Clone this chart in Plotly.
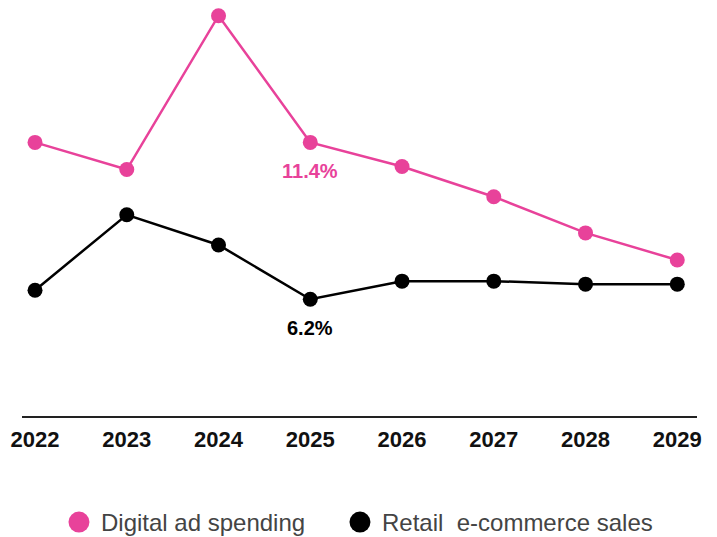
import plotly.graph_objects as go

# Year-over-year growth, %
years = [2022, 2023, 2024, 2025, 2026, 2027, 2028, 2029]
digital_ad = [11.4, 10.5, 15.6, 11.4, 10.6, 9.6, 8.4, 7.5]
retail_ecom = [6.5, 9.0, 8.0, 6.2, 6.8, 6.8, 6.7, 6.7]
series_names = ["Digital ad spending", "Retail\u00a0 e-commerce sales"]
label_year = 2025

PINK = "#E8429A"
BLACK = "#000000"
colors = [PINK, BLACK]

fig = go.Figure()
for name, vals, col in zip(series_names, [digital_ad, retail_ecom], colors):
    fig.add_trace(go.Scatter(
        x=years, y=vals, mode="lines+markers", name=name,
        line=dict(color=col, width=2.5),
        marker=dict(color=col, size=15),
        cliponaxis=False, showlegend=False, hoverinfo="skip",
    ))

# value callouts under the 2025 points
idx = years.index(label_year)
for vals, col in zip([digital_ad, retail_ecom], colors):
    fig.add_annotation(
        x=label_year, y=vals[idx], text=f"<b>{vals[idx]:.1f}%</b>",
        showarrow=False, yshift=-29, xanchor="center", yanchor="middle",
        font=dict(family="Liberation Sans", size=20, color=col),
    )

# custom legend below the axis
legend_items = [(0.0844, 0.1135), (0.5007, 0.5305)]
for (cx, tx), name, col in zip(legend_items, series_names, colors):
    fig.add_shape(
        type="circle", xref="paper", yref="paper",
        xsizemode="pixel", ysizemode="pixel",
        xanchor=cx, yanchor=-0.255,
        x0=-10.5, x1=10.5, y0=-10.5, y1=10.5,
        fillcolor=col, line=dict(width=0),
    )
    fig.add_annotation(
        xref="paper", yref="paper", x=tx, y=-0.255, text=name,
        showarrow=False, xanchor="left", yanchor="middle",
        font=dict(family="Liberation Sans", size=24, color="#444444"),
    )

fig.update_layout(
    width=717, height=537,
    margin=dict(l=22, r=20, t=0, b=121),
    paper_bgcolor="white", plot_bgcolor="white",
    showlegend=False,
    xaxis=dict(
        range=[2021.858, 2029.215], tickmode="array", tickvals=years,
        ticktext=[f"<b>{y}</b>" for y in years],
        showgrid=False, zeroline=False, showline=True,
        linecolor="#222222", linewidth=1.5, ticks="",
        ticklabelstandoff=3,
        tickfont=dict(family="Liberation Sans", size=22, color="#111111"),
    ),
    yaxis=dict(
        range=[2.33, 16.12], visible=False, showgrid=False, zeroline=False,
    ),
)

fig.write_html("out.html")
